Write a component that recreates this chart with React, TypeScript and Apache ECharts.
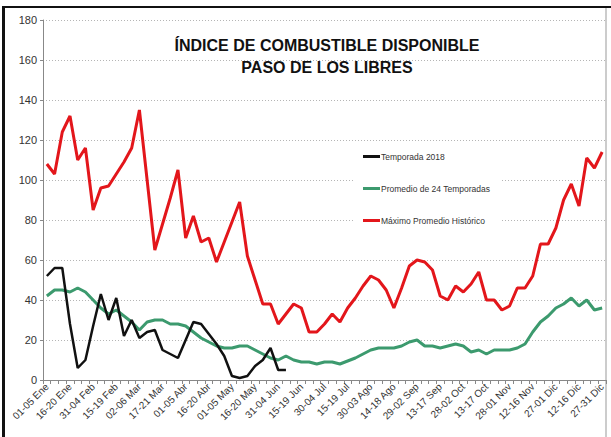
import React, { useEffect, useRef } from "react";
import * as echarts from "echarts";

const categories = [
  "01-05 Ene", "06-10 Ene", "11-15 Ene", "16-20 Ene", "21-25 Ene", "26-30 Ene",
  "31-04 Feb", "05-09 Feb", "10-14 Feb", "15-19 Feb", "20-24 Feb", "25-01 Mar",
  "02-06 Mar", "07-11 Mar", "12-16 Mar", "17-21 Mar", "22-26 Mar", "27-31 Mar",
  "01-05 Abr", "06-10 Abr", "11-15 Abr", "16-20 Abr", "21-25 Abr", "26-30 Abr",
  "01-05 May", "06-10 May", "11-15 May", "16-20 May", "21-25 May", "26-30 May",
  "31-04 Jun", "05-09 Jun", "10-14 Jun", "15-19 Jun", "20-24 Jun", "25-29 Jun",
  "30-04 Jul", "05-09 Jul", "10-14 Jul", "15-19 Jul", "20-24 Jul", "25-29 Jul",
  "30-03 Ago", "04-08 Ago", "09-13 Ago", "14-18 Ago", "19-23 Ago", "24-28 Ago",
  "29-02 Sep", "03-07 Sep", "08-12 Sep", "13-17 Sep", "18-22 Sep", "23-27 Sep",
  "28-02 Oct", "03-07 Oct", "08-12 Oct", "13-17 Oct", "18-22 Oct", "23-27 Oct",
  "28-01 Nov", "02-06 Nov", "07-11 Nov", "12-16 Nov", "17-21 Nov", "22-26 Nov",
  "27-01 Dic", "02-06 Dic", "07-11 Dic", "12-16 Dic", "17-21 Dic", "22-26 Dic",
  "27-31 Dic",
];

const temporada2018 = [
  52, 56, 56, 28, 6, 10, 27, 43, 30, 41, 22, 30, 21, 24, 25, 15, 13, 11, 20, 29,
  28, 23, 18, 12, 2, 1, 2, 7, 10, 16, 5, 5,
];

const promedio24 = [
  42, 45, 45, 44, 46, 44, 40, 36, 33, 35, 32, 29, 25, 29, 30, 30, 28, 28, 27, 24,
  21, 19, 17, 16, 16, 17, 17, 15, 13, 11, 10, 12, 10, 9, 9, 8, 9, 9, 8, 9.5,
  11, 13, 15, 16, 16, 16, 17, 19, 20, 17, 17, 16, 17, 18, 17, 14, 15, 13, 15, 15,
  15, 16, 18, 24, 29, 32, 36, 38, 41, 37, 40, 35, 36,
];

const maximoHistorico = [
  108, 103, 124, 132, 110, 116, 85, 96, 97, 103, 109, 116, 135, 100, 65, 78, 91, 105, 71, 82,
  69, 71, 59, 69, 79, 89, 62, 50, 38, 38, 28, 33, 38, 36, 24, 24, 28, 33, 29, 36,
  41, 47, 52, 50, 45, 36, 46, 57, 60, 59, 55, 42, 40, 47, 44, 48, 54, 40, 40, 35,
  37, 46, 46, 52, 68, 68, 76, 90, 98, 87, 111, 106, 114,
];

const seriesNames = [
  "Temporada 2018",
  "Promedio de 24 Temporadas",
  "Máximo Promedio Histórico",
];

const titleLines = ["ÍNDICE DE COMBUSTIBLE DISPONIBLE", "PASO DE LOS LIBRES"];

export default function App() {
  const ref = useRef<HTMLDivElement>(null);
  useEffect(() => {
    if (!ref.current) return;
    const chart = echarts.init(ref.current, null, { renderer: "svg" });
    const font = "Liberation Sans, Arial, sans-serif";
    chart.setOption({
      animation: false,
      backgroundColor: "#ffffff",
      textStyle: { fontFamily: font },
      title: {
        text: titleLines.join("\n"),
        left: 322,
        textAlign: "center",
        top: 29,
        textStyle: {
          fontFamily: font,
          fontSize: 16,
          fontWeight: "bold",
          color: "#111",
          lineHeight: 22,
        },
      },
      legend: {
        data: seriesNames,
        orient: "vertical",
        left: 353,
        top: 148,
        itemWidth: 17,
        itemHeight: 3,
        itemGap: 23,
        icon: "rect",
        backgroundColor: "#ffffff",
        padding: [4, 10, 6, 10],
        textStyle: { fontSize: 8.5, color: "#333", fontFamily: font, padding: [0, 0, 0, -4] },
      },
      grid: { left: 43, right: 5, top: 20, bottom: 57, containLabel: false },
      xAxis: {
        type: "category",
        data: categories,
        boundaryGap: true,
        axisLine: { lineStyle: { color: "#888", width: 1 } },
        axisTick: { show: true, interval: 0, length: 4, lineStyle: { color: "#888" } },
        axisLabel: {
          interval: 2,
          rotate: 45,
          fontSize: 10,
          color: "#333",
          margin: 5,
          fontFamily: font,
        },
        splitLine: { show: false },
      },
      yAxis: {
        type: "value",
        min: 0,
        max: 180,
        interval: 20,
        axisLine: { show: true, lineStyle: { color: "#888" } },
        axisTick: { show: true, length: 3, lineStyle: { color: "#888" } },
        axisLabel: { fontSize: 11, color: "#333", margin: 6, fontFamily: font },
        splitLine: { show: true, lineStyle: { color: "#b5b5b5", type: [1, 2], width: 1 } },
      },
      series: [
        {
          name: seriesNames[2],
          type: "line",
          data: maximoHistorico,
          showSymbol: false,
          symbol: "none",
          lineStyle: { color: "#e3161b", width: 3 },
          itemStyle: { color: "#e3161b" },
          z: 2,
        },
        {
          name: seriesNames[1],
          type: "line",
          data: promedio24,
          showSymbol: false,
          symbol: "none",
          lineStyle: { color: "#3c9a6e", width: 3 },
          itemStyle: { color: "#3c9a6e" },
          z: 3,
        },
        {
          name: seriesNames[0],
          type: "line",
          data: temporada2018,
          showSymbol: false,
          symbol: "none",
          lineStyle: { color: "#111111", width: 2.5 },
          itemStyle: { color: "#111111" },
          z: 4,
        },
      ],
      graphic: [
        { type: "rect", shape: { x: 2, y: 6, width: 3, height: 431 }, style: { fill: "#111" }, silent: true },
        { type: "rect", shape: { x: 2, y: 6, width: 609, height: 2 }, style: { fill: "#111" }, silent: true },
        { type: "rect", shape: { x: 605.5, y: 8, width: 1, height: 429 }, style: { fill: "#999" }, silent: true },
      ],
    });
    return () => chart.dispose();
  }, []);
  return (
    <div
      ref={ref}
      style={{ position: "fixed", left: 0, top: 0, width: 611, height: 437 }}
    />
  );
}
